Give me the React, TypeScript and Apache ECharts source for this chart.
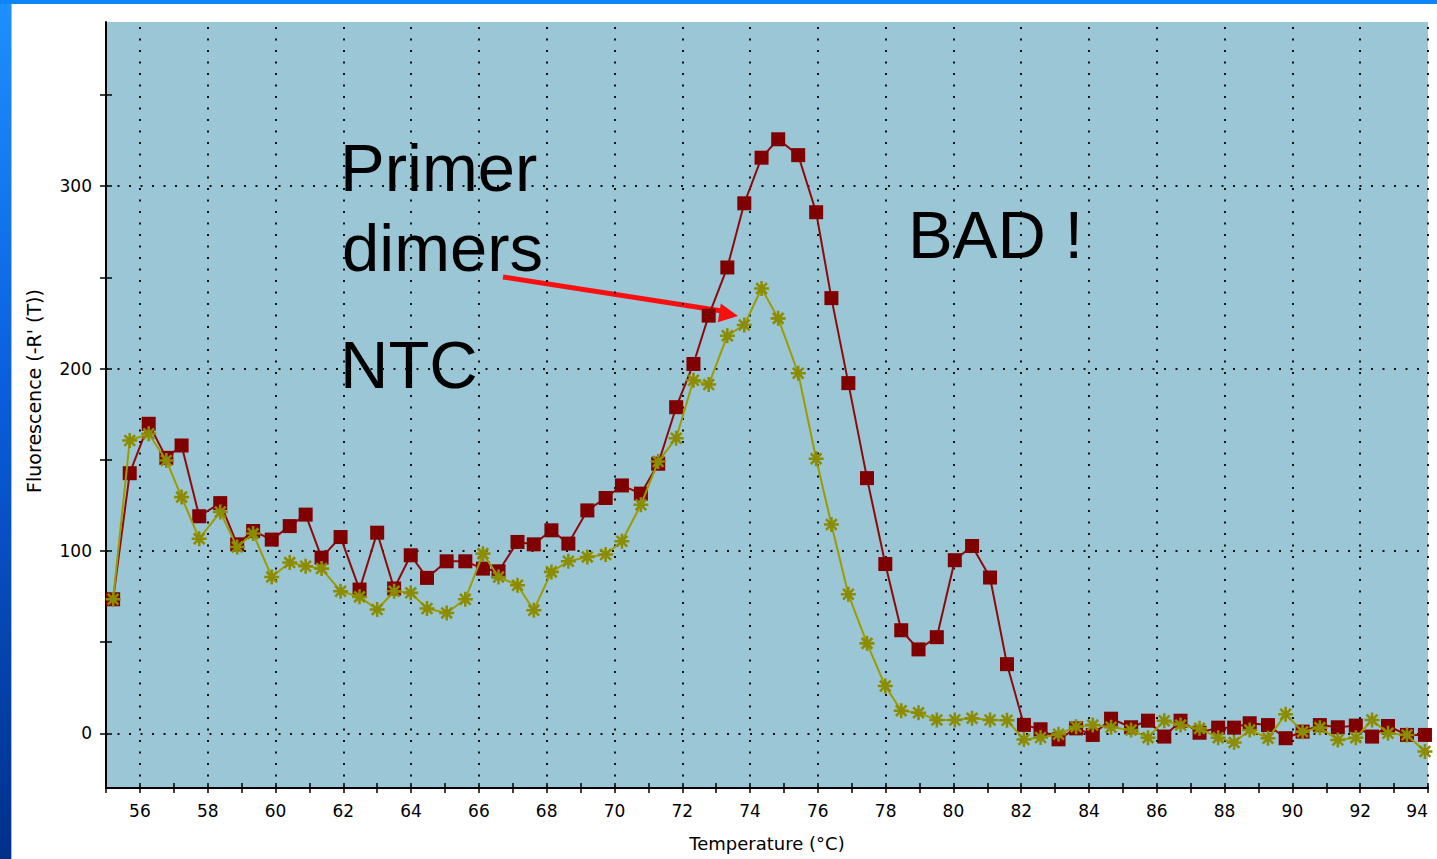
import { useEffect, useRef } from 'react';
import * as echarts from 'echarts';

// Melt curve readings: temperature (°C) and -R'(T) for each trace
const temperature = [
  55.21, 55.70, 56.26, 56.78, 57.23, 57.75, 58.37, 58.87, 59.34, 59.89,
  60.42, 60.89, 61.36, 61.92, 62.48, 63.00, 63.50, 63.99, 64.47, 65.05,
  65.60, 66.12, 66.58, 67.14, 67.62, 68.14, 68.64, 69.20, 69.74, 70.22,
  70.78, 71.29, 71.82, 72.33, 72.78, 73.33, 73.83, 74.34, 74.83, 75.42,
  75.95, 76.40, 76.90, 77.45, 77.99, 78.46, 78.97, 79.51, 80.04, 80.55,
  81.08, 81.58, 82.08, 82.57, 83.10, 83.62, 84.11, 84.65, 85.24, 85.74,
  86.22, 86.70, 87.26, 87.81, 88.28, 88.74, 89.28, 89.80, 90.30, 90.81,
  91.34, 91.87, 92.35, 92.82, 93.38, 93.91,
];

const sampleValues = [
  73.5, 142.6, 169.7, 151, 157.8, 119, 126.2, 103.6, 110.9, 106.2,
  113.6, 119.9, 96.3, 107.6, 78.8, 110, 79.4, 97.6, 85.2, 94.3,
  94.3, 90.3, 88.8, 104.9, 103.6, 111.3, 104, 122.2, 129, 135.9,
  131.4, 147.8, 178.8, 202.5, 229, 255.4, 290.6, 315.6, 325.7, 317,
  285.7, 238.6, 192, 139.9, 92.8, 56.5, 46, 52.7, 94.9, 102.7,
  85.4, 37.9, 4.6, 2.2, -3.3, 2.7, -0.9, 8, 3.3, 6.9,
  -1.8, 6.9, 0.3, 3.1, 3.1, 5.5, 4.5, -2.7, 0.9, 4.5,
  3.3, 4.2, -1.8, 4, -0.9, -0.9,
];

const ntcValues = [
  73.5, 160.5, 164.2, 149.6, 129.5, 106.7, 121.3, 102.1, 109.5, 85.7,
  93.6, 91.6, 90.3, 77.9, 74.8, 67.9, 77.9, 77, 68.4, 66,
  73.5, 98.5, 85.7, 81.2, 67.5, 88.5, 94.3, 96.7, 98, 105.3,
  125.3, 149, 161.8, 193.6, 191.2, 218, 223.9, 243.9, 227.5, 197.4,
  150.5, 114.5, 76.2, 49.3, 25.9, 12.4, 11.3, 7.3, 7.3, 8.2,
  7.3, 7.1, -3.4, -2.3, -0.5, 3.6, 4.5, 3.3, 1.8, -2.4,
  6.9, 4.5, 2.7, -2.4, -5.1, 1.8, -2.7, 10.4, 0.9, 3.1,
  -3.7, -2.4, 7.3, 0, -0.9, -10,
];

const xTickLabels = [56, 58, 60, 62, 64, 66, 68, 70, 72, 74, 76, 78, 80, 82, 84, 86, 88, 90, 92, 94];
const yTickLabels = [0, 100, 200, 300];
const yTicks = [0, 50, 100, 150, 200, 250, 300, 350];

// eight-ray asterisk marker
const asterisk =
  'path://M-1.2,-7L1.2,-7L1.2,7L-1.2,7Z' +
  'M-7,-1.2L7,-1.2L7,1.2L-7,1.2Z' +
  'M-4.15,-5.85L5.85,4.15L4.15,5.85L-5.85,-4.15Z' +
  'M5.85,-4.15L-4.15,5.85L-5.85,4.15L4.15,-5.85Z' +
  'M-3,0L-2.1,-2.1L0,-3L2.1,-2.1L3,0L2.1,2.1L0,3L-2.1,2.1Z';

const axisFont = 'DejaVu Sans';
const blackLine = { color: '#000', width: 2 };
const tickLine = { color: '#000', width: 1.5 };

export default function App() {
  const ref = useRef<HTMLDivElement>(null);

  useEffect(() => {
    if (!ref.current) return;
    const chart = echarts.init(ref.current, undefined, { renderer: 'svg' });

    const headTip = [738, 316];
    const option: any = {
      animation: false,
      backgroundColor: '#ffffff',
      grid: {
        left: 106,
        right: 9,
        top: 22,
        bottom: 71,
        show: true,
        backgroundColor: '#9AC6D6',
        borderWidth: 0,
        containLabel: false,
        outerBoundsMode: 'none',
      },
      xAxis: [
        {
          type: 'value',
          min: 55,
          max: 94,
          interval: 1,
          position: 'bottom',
          axisLine: { show: true, onZero: false, lineStyle: blackLine },
          axisTick: { show: true, length: 5, lineStyle: tickLine },
          axisLabel: {
            formatter: (v: number) => (xTickLabels.indexOf(Math.round(v)) >= 0 ? String(Math.round(v)) : ''),
            color: '#000',
            fontSize: 17,
            fontFamily: axisFont,
            margin: 14,
            showMaxLabel: true,
            showMinLabel: true,
            alignMaxLabel: 'right',
          },
          splitLine: { show: false },
          name: 'Temperature (°C)',
          nameLocation: 'middle',
          nameGap: 46,
          nameTextStyle: { color: '#000', fontSize: 18, fontFamily: axisFont },
        },
        {
          type: 'value',
          min: 55,
          max: 94,
          interval: 1,
          position: 'bottom',
          axisLine: { show: false, onZero: false },
          axisTick: { show: true, inside: true, length: 5, lineStyle: tickLine },
          axisLabel: { show: false },
          splitLine: { show: false },
        },
      ],
      yAxis: [
        {
          type: 'value',
          min: -30,
          max: 390,
          position: 'left',
          axisLine: { show: true, onZero: false, lineStyle: blackLine },
          axisTick: { show: true, length: 6, customValues: yTicks, lineStyle: tickLine },
          axisLabel: {
            customValues: yTickLabels,
            color: '#000',
            fontSize: 17,
            fontFamily: axisFont,
            margin: 14,
          },
          splitLine: { show: false },
        },
        {
          type: 'value',
          min: -30,
          max: 390,
          position: 'left',
          axisLine: { show: false, onZero: false },
          axisTick: { show: true, inside: true, length: 6, customValues: yTicks, lineStyle: tickLine },
          axisLabel: { show: false },
          splitLine: { show: false },
        },
      ],
      series: [
        {
          name: 'Sample',
          type: 'line',
          data: temperature.map((t, i) => [t, sampleValues[i]]),
          symbol: 'rect',
          symbolSize: 14,
          showAllSymbol: true,
          itemStyle: { color: '#800000' },
          lineStyle: { color: '#8E0A0A', width: 2 },
          z: 3,
          markLine: {
            silent: true,
            z: 1,
            symbol: ['none', 'none'],
            label: { show: false },
            lineStyle: { color: '#111', width: 2, type: [2, 9.5] },
            data: [
              ...xTickLabels.map((v) => ({ xAxis: v })),
              ...yTickLabels.map((v) => ({ yAxis: v })),
            ],
          },
        },
        {
          name: 'NTC',
          type: 'line',
          data: temperature.map((t, i) => [t, ntcValues[i]]),
          symbol: asterisk,
          symbolSize: 15,
          showAllSymbol: true,
          itemStyle: { color: '#8C8C00' },
          lineStyle: { color: '#9C9C00', width: 2 },
          z: 4,
        },
      ],
      graphic: [
        {
          type: 'rect',
          silent: true,
          shape: { x: 0, y: 0, width: 11, height: 859 },
          style: {
            fill: new echarts.graphic.LinearGradient(0, 0, 0, 1, [
              { offset: 0, color: '#1E90FF' },
              { offset: 0.45, color: '#0A5EDD' },
              { offset: 1, color: '#00308A' },
            ]),
          },
        },
        { type: 'rect', silent: true, shape: { x: 11, y: 4, width: 1, height: 855 }, style: { fill: '#9DBCEB' } },
        { type: 'rect', silent: true, shape: { x: 0, y: 0, width: 1437, height: 4 }, style: { fill: '#0C86F7' } },
        {
          type: 'text',
          silent: true,
          x: 34,
          y: 391,
          rotation: Math.PI / 2,
          style: {
            text: "Fluorescence (-R' (T))",
            fill: '#000',
            fontSize: 19,
            fontFamily: axisFont,
            align: 'center',
            verticalAlign: 'middle',
          },
        },
        {
          type: 'text',
          silent: true,
          x: 340,
          y: 167,
          style: { text: 'Primer', fill: '#000', fontSize: 67, fontFamily: 'Liberation Sans', verticalAlign: 'middle' },
        },
        {
          type: 'text',
          silent: true,
          x: 342,
          y: 247,
          style: { text: 'dimers', fill: '#000', fontSize: 67, fontFamily: 'Liberation Sans', verticalAlign: 'middle' },
        },
        {
          type: 'text',
          silent: true,
          x: 340,
          y: 364,
          style: { text: 'NTC', fill: '#000', fontSize: 67, fontFamily: 'Liberation Sans', verticalAlign: 'middle' },
        },
        {
          type: 'text',
          silent: true,
          x: 908,
          y: 234,
          style: { text: 'BAD !', fill: '#000', fontSize: 67, fontFamily: 'Liberation Sans', verticalAlign: 'middle' },
        },
        {
          type: 'line',
          silent: true,
          shape: { x1: 503, y1: 277, x2: 722, y2: 311 },
          style: { stroke: '#F81010', lineWidth: 5 },
        },
        {
          type: 'polygon',
          silent: true,
          shape: { points: [headTip, [720.8, 303.5], [717.8, 322.3]] },
          style: { fill: '#F81010' },
        },
      ],
    };

    chart.setOption(option);
    return () => chart.dispose();
  }, []);

  return <div ref={ref} style={{ position: 'fixed', left: 0, top: 0, width: 1437, height: 859 }} />;
}
